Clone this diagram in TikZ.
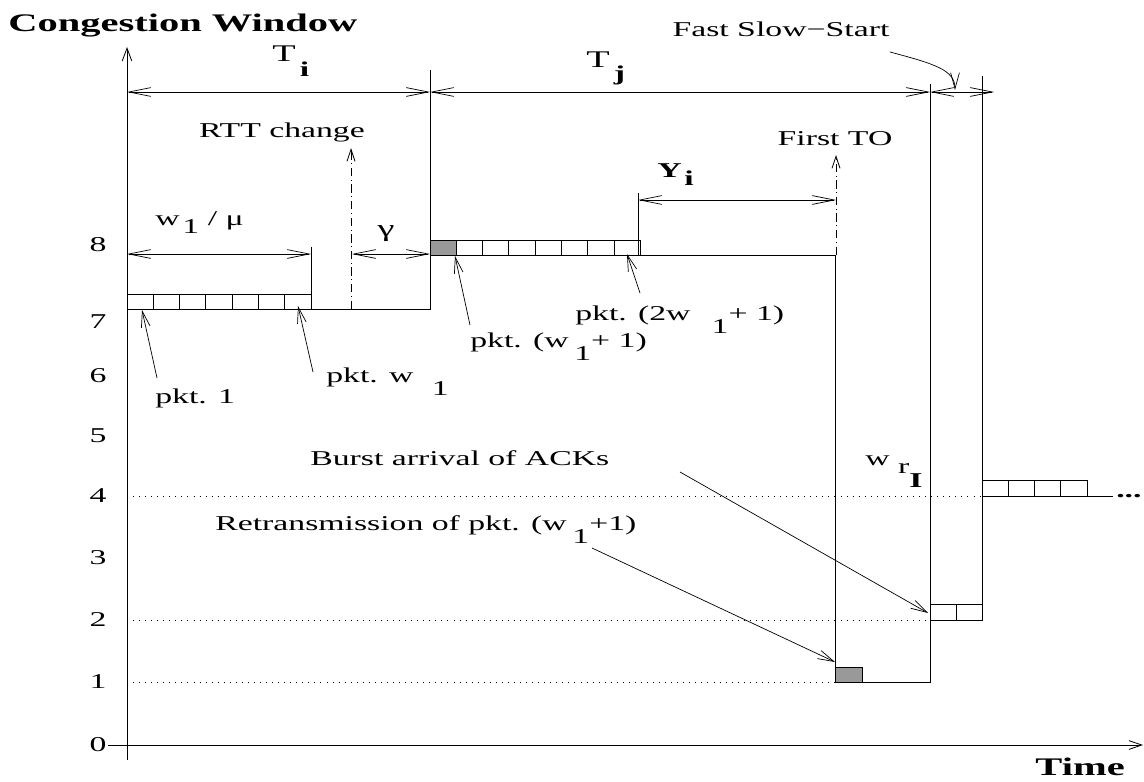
\documentclass[tikz,border=0pt]{standalone}
\usepackage{fontspec}
\setmainfont{Liberation Serif}[FakeStretch=1.6]
\usetikzlibrary{arrows.meta}
\definecolor{pktgrey}{gray}{0.6}
\newcommand{\low}[2][4pt]{\hspace{#1}\raisebox{-9.5pt}{#2}}
\tikzset{
    curve/.style = {
        line width=0.6pt
    },
    dimline/.style = {
        line width=0.5pt,
        {Straight Barb[length=5.5mm,width=2.2mm]}-{Straight Barb[length=5.5mm,width=2.2mm]}
    },
    pointer/.style = {
        line width=0.5pt,
        -{Straight Barb[length=4mm,width=2.2mm]}
    },
    event/.style = {
        line width=0.6pt,
        dash pattern=on 6pt off 2.5pt on 0.8pt off 2.5pt,
        -{Straight Barb[length=3mm,width=2mm]}
    },
    level/.style = {
        line width=0.5pt,
        dash pattern=on 0.7pt off 3.6pt
    },
    lbl/.style = {
        font=\fontsize{15}{18}\selectfont,
        inner sep=0pt
    },
    axislbl/.style = {
        font=\bfseries\fontsize{18}{21}\selectfont,
        inner sep=0pt
    },
    pkt/.style = {
        draw, line width=0.6pt
    },
    lost/.style = {
        pkt, fill=pktgrey
    }
}
\begin{document}
\begin{tikzpicture}[x=0.025cm, y=-0.025cm]
\useasboundingbox (0,0) rectangle (1144,782);

\draw[curve, -{Straight Barb[length=3.2mm,width=2.4mm]}] (127,760) -- (127,47);
\draw[curve, -{Straight Barb[length=3.2mm,width=2.2mm]}] (108,745) -- (1143,745);
\node (ylabel) [axislbl, anchor=base west] at (8,32) {Congestion Window};
\node (xlabel) [axislbl, anchor=base east] at (1125,775) {Time};

\foreach \v/\y in {0/745,1/682,2/620,3/558,4/496,5/436,6/376,7/322,8/245}
    \node (tick\v) [lbl] at (98,\y) {\v};

\draw[level] (127,682) -- (835,682);
\draw[level] (127,620) -- (930,620);
\draw[level] (127,496) -- (982,496);

\draw[curve] (127,309) -- (430,309) -- (430,70);
\draw[curve] (430,255) -- (835,255) -- (835,682) -- (930,682) -- (930,84);
\draw[curve] (982,620) -- (982,76);
\draw[curve] (982,496) -- (1113,496);
\draw[curve] (311,247) -- (311,309);
\draw[curve] (638,193) -- (638,255);

\foreach \i in {0,...,6}
    \draw[pkt] (127+\i*26.3,294) rectangle ++(26.3,15);
\draw[lost] (430,240) rectangle ++(26.3,15);
\foreach \i in {1,...,7}
    \draw[pkt] (430+\i*26.3,240) rectangle ++(26.3,15);
\draw[lost] (835,667) rectangle ++(27,15);
\foreach \i in {0,1}
    \draw[pkt] (930+\i*26,604) rectangle ++(26,16);
\foreach \i in {0,...,3}
    \draw[pkt] (982+\i*26.3,480) rectangle ++(26.3,16);
\node (more) [lbl, font=\bfseries\fontsize{15}{18}\selectfont, anchor=west] at (1116,496) {...};

\draw[dimline] (127,92) -- (430,92);
\draw[dimline] (430,92) -- (930,92);
\draw[dimline] (930,92) -- (994,92);
\draw[dimline] (127,254) -- (311,254);
\draw[dimline] (352,254) -- (430,254);
\draw[dimline] (638,200) -- (836,200);

\draw[event] (351,309) -- (351,148);
\draw[event] (836,255) -- (836,155);

\node (ti) [lbl, font=\fontsize{17}{20}\selectfont, anchor=base west] at (272,62) {T\raisebox{-10pt}{\hspace{3pt}\bfseries\fontsize{15}{18}\selectfont i}};
\node (tj) [lbl, font=\fontsize{17}{20}\selectfont, anchor=base west] at (586,68) {T\raisebox{-9pt}{\hspace{3pt}\bfseries\fontsize{15}{18}\selectfont j}};
\node (yi) [lbl, anchor=base west] at (657,177) {\bfseries Y\raisebox{-6pt}{\hspace{2pt}i}};
\node (gamma) [lbl, font=\fontsize{17}{20}\selectfont] at (386,234) {γ};
\node (burst) [lbl, anchor=base west] at (155,225) {w\raisebox{-6pt}{\hspace{2pt}1} / μ};
\node (rtt) [lbl, anchor=base] at (282,138) {RTT change};
\node (firstto) [lbl, anchor=base] at (835,145) {First TO};
\node (fss) [lbl, anchor=base] at (781,37) {Fast Slow−Start};
\draw[pointer] (890,52) .. controls (935,64) and (955,70) .. (955,90);

\node (pkt1) [lbl, anchor=base west] at (155,403) {pkt. 1};
\node (pktw) [lbl, anchor=base west] at (326,382) {pkt. w\low[13pt]{1}};
\node (pktnext) [lbl, anchor=base west] at (470,347) {pkt. (w\low{1}+ 1)};
\node (pktlast) [lbl, anchor=base west] at (575,320) {pkt. (2w\low[15pt]{1}+ 1)};
\draw[pointer] (157,378) -- (142,310);
\draw[pointer] (313,372) -- (298,306);
\draw[pointer] (470,325) -- (455,256);
\draw[pointer] (640,293) -- (627,254);

\node (acks) [lbl, anchor=base west] at (310,465) {Burst arrival of ACKs};
\node (retx) [lbl, anchor=base west] at (215,530) {Retransmission of pkt. (w\low{1}+1)};
\draw[pointer] (680,472) -- (928,613);
\draw[pointer] (592,548) -- (835,662);

\node (wr) [lbl, anchor=base west] at (865,465) {w\hspace{6pt}\raisebox{-6pt}{r\raisebox{-10pt}{\bfseries I}}};

\end{tikzpicture}
\end{document}
